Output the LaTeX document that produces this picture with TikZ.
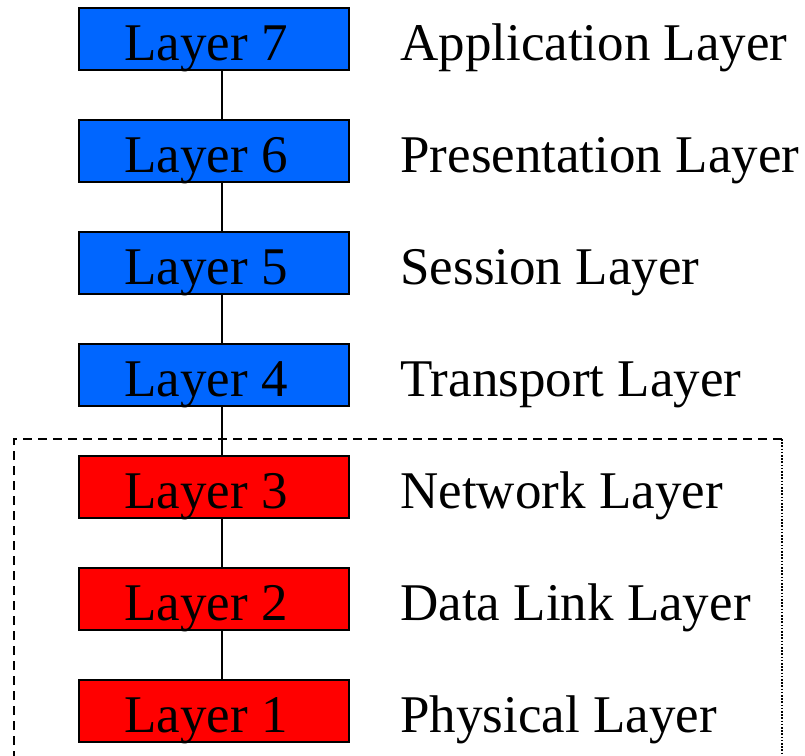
\documentclass[tikz,border=0pt]{standalone}
\usepackage{fontspec}
\setmainfont{Liberation Serif}
\definecolor{upperblue}{RGB}{0,102,255}
\definecolor{lowerred}{RGB}{255,0,0}
\begin{document}
\begin{tikzpicture}[x=0.5pt,y=-0.5pt,
  layerbox/.style={draw=black,line width=1pt,minimum width=135pt,minimum height=31pt,inner sep=0pt},
  boxtext/.style={anchor=base,font=\fontsize{26.5}{30}\selectfont,inner sep=0pt},
  layername/.style={anchor=base west,font=\fontsize{26.5}{30}\selectfont,inner sep=0pt},
  link/.style={line width=1pt,draw=black}]
\useasboundingbox (0,0) rectangle (805,756);
% boxes
\foreach \n/\c [count=\i from 0] in {7/upperblue,6/upperblue,5/upperblue,4/upperblue,3/lowerred,2/lowerred,1/lowerred}{
  \node[layerbox,fill=\c] (L\n) at (214,39+112*\i) {};
  \node[boxtext] (t\n) at (206,60+112*\i) {Layer \n};
}
% names
\node[layername] (n7) at (400,60) {Application Layer};
\node[layername] (n6) at (400,172) {Presentation Layer};
\node[layername] (n5) at (400,284) {Session Layer};
\node[layername] (n4) at (400,396) {Transport Layer};
\node[layername] (n3) at (400,508) {Network Layer};
\node[layername] (n2) at (400,620) {Data Link Layer};
\node[layername] (n1) at (400,732) {Physical Layer};
% dashed frame
\coordinate (ftl) at (14,439);
\coordinate (ftr) at (782,439);
\coordinate (fbl) at (14,760);
\coordinate (fbr) at (782,760);
\draw[line width=1pt,dash pattern=on 4.5pt off 3pt] (fbl) -- (ftl) -- (ftr);
\draw[line width=1pt,dash pattern=on 0.8pt off 0.8pt] (ftr) -- (fbr);
% connectors
\foreach \a/\b in {7/6,6/5,5/4,4/3,3/2,2/1}{
  \draw[link] ([xshift=4pt]L\a.south) -- ([xshift=4pt]L\b.north);
}
\end{tikzpicture}
\end{document}
